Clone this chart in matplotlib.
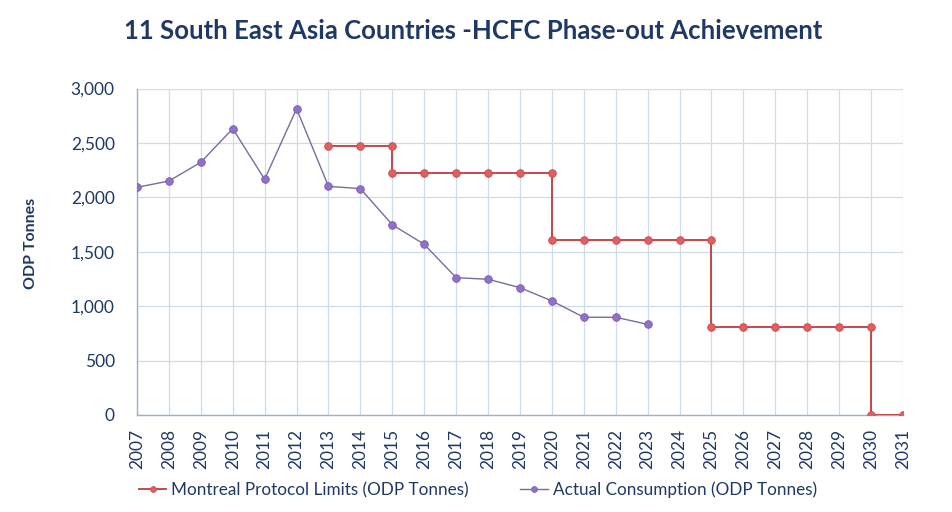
import matplotlib
matplotlib.use("Agg")
import matplotlib.pyplot as plt

# Montreal Protocol limits (step line, repeated years make the steps)
limit_years = [2013, 2014, 2015, 2015, 2016, 2017, 2018, 2019, 2020, 2020,
               2021, 2022, 2023, 2024, 2025, 2025, 2026, 2027, 2028, 2029,
               2030, 2030, 2031]
limit_values = [2474, 2474, 2474, 2227, 2227, 2227, 2227, 2227, 2227, 1608,
                1608, 1608, 1608, 1608, 1608, 804, 804, 804, 804, 804,
                804, 0, 0]

# actual consumption
actual_years = list(range(2007, 2024))
actual_values = [2092, 2150, 2322, 2631, 2166, 2814, 2101, 2080, 1748, 1568,
                 1262, 1247, 1170, 1048, 898, 898, 833]

year_ticks = list(range(2007, 2032))
y_ticks = [0, 500, 1000, 1500, 2000, 2500, 3000]

title = "11 South East Asia Countries -HCFC Phase-out Achievement"
ylabel = "ODP Tonnes"
label_limit = "Montreal Protocol Limits (ODP Tonnes)"
label_actual = "Actual Consumption (ODP Tonnes)"

plt.rcParams['font.family'] = ['Lato', 'DejaVu Sans']
txt = '#1F3864'
grid_c = '#CCDCEC'

fig = plt.figure(figsize=(9.52, 5.12), dpi=100)
ax = fig.add_axes([0.1439, 0.1895, 0.8046, 0.6376])

ax.plot(limit_years, limit_values, color='#C0393B', lw=1.3,
        marker='o', ms=5.5, mfc='#E06060', mec='#C84848', mew=0.6,
        label=label_limit, zorder=3)
ax.plot(actual_years, actual_values, color='#7A6C9A', lw=1.0,
        marker='o', ms=5.5, mfc='#9070C8', mec='#7A5CB0', mew=0.6,
        label=label_actual, zorder=3)

ax.set_xlim(2007, 2031)
ax.set_ylim(0, 3000)
ax.set_xticks(year_ticks)
ax.set_xticklabels([str(y) for y in year_ticks], rotation=90)
ax.set_yticks(y_ticks)
ax.set_yticklabels([f"{v:,}" for v in y_ticks])
ax.tick_params(axis='both', length=0, labelsize=12.5, colors=txt, pad=10)
ax.tick_params(axis='y', pad=16)

ax.grid(True, color=grid_c, lw=0.9)
ax.set_axisbelow(True)
for s in ['top', 'right']:
    ax.spines[s].set_visible(False)
for s in ['left', 'bottom']:
    ax.spines[s].set_color('#9AB0CC')
    ax.spines[s].set_linewidth(1.0)

fig.text(0.033, 0.525, ylabel, rotation=90, ha='center', va='center',
         fontsize=11.5, fontweight='bold', color=txt)
fig.text(0.497, 0.94, title, ha='center', va='center',
         fontsize=18.5, fontweight='bold', color=txt)

leg = fig.legend(loc='center', bbox_to_anchor=(0.502, 0.043), ncol=2,
                 frameon=False, fontsize=12.3, handlelength=1.6,
                 columnspacing=3.0, handletextpad=0.3, markerscale=0.75)
for t in leg.get_texts():
    t.set_color(txt)

fig.savefig("out.png", dpi=100)
